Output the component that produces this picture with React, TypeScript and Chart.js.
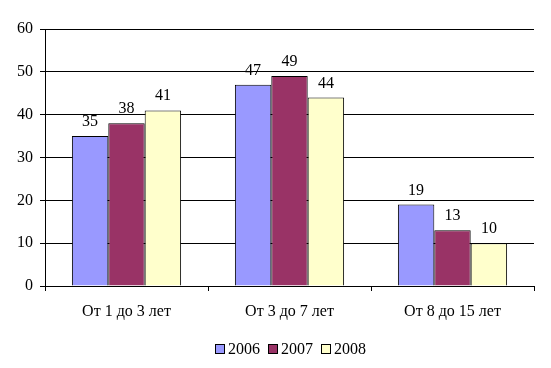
import React, { useEffect, useRef } from "react";
import { Chart, registerables } from "chart.js";

Chart.register(...registerables);

const categories = ["От 1 до 3 лет", "От 3 до 7 лет", "От 8 до 15 лет"];
const seriesNames = ["2006", "2007", "2008"];
const values2006 = [35, 47, 19];
const values2007 = [38, 49, 13];
const values2008 = [41, 44, 10];
const colors = ["#9999FF", "#993366", "#FFFFCC"];

const FONT = "'Liberation Serif', 'Times New Roman', serif";
const FS = 16;

const dataLabels = {
  id: "dataLabels",
  afterDatasetsDraw(chart: any) {
    const ctx = chart.ctx;
    ctx.save();
    ctx.font = `${FS}px ${FONT}`;
    ctx.fillStyle = "#000";
    ctx.textAlign = "center";
    ctx.textBaseline = "alphabetic";
    chart.data.datasets.forEach((ds: any, i: number) => {
      const meta = chart.getDatasetMeta(i);
      meta.data.forEach((el: any, j: number) => {
        ctx.fillText(String(ds.data[j]), el.x, el.y - 10);
      });
    });
    ctx.restore();
  },
};

const customLegend = {
  id: "customLegend",
  afterDraw(chart: any) {
    const ctx = chart.ctx;
    ctx.save();
    ctx.font = `${FS}px ${FONT}`;
    const box = 9;
    const textGap = 4;
    const itemGap = 8;
    const items = chart.data.datasets.map((ds: any) => ({
      label: ds.label,
      color: ds.backgroundColor,
      w: ctx.measureText(ds.label).width,
    }));
    const total =
      items.reduce((s: number, it: any) => s + box + textGap + it.w, 0) +
      itemGap * (items.length - 1);
    const cx = 290.5;
    const cy = 349;
    let x = Math.round(cx - total / 2);
    ctx.textBaseline = "middle";
    ctx.textAlign = "left";
    items.forEach((it: any) => {
      ctx.fillStyle = it.color;
      ctx.fillRect(x + 0.5, cy - 4.5, box, box);
      ctx.strokeStyle = "#000";
      ctx.lineWidth = 1;
      ctx.strokeRect(x + 0.5, cy - 4.5, box, box);
      ctx.fillStyle = "#000";
      ctx.fillText(it.label, x + box + textGap, cy + 1);
      x += box + textGap + it.w + itemGap;
    });
    ctx.restore();
  },
};

export default function App() {
  const ref = useRef<HTMLCanvasElement>(null);
  useEffect(() => {
    if (!ref.current) return;
    const chart = new Chart(ref.current, {
      type: "bar",
      data: {
        labels: categories,
        datasets: [values2006, values2007, values2008].map((d, i) => ({
          label: seriesNames[i],
          data: d,
          backgroundColor: colors[i],
          borderColor: "#000",
          borderWidth: 1,
          barPercentage: 1,
          categoryPercentage: 0.67,
        })),
      },
      options: {
        responsive: false,
        animation: false,
        layout: { padding: { left: 0, right: 17, top: 29, bottom: 0 } },
        plugins: {
          tooltip: { enabled: false },
          legend: { display: false },
        },
        scales: {
          x: {
            afterFit(scale: any) {
              scale.height = 82;
            },
            grid: {
              drawOnChartArea: false,
              drawTicks: true,
              tickLength: 5,
              color: "#000",
            },
            border: { display: true, color: "#000" },
            ticks: {
              color: "#000",
              padding: 11,
              font: { family: FONT, size: FS },
            },
          },
          y: {
            min: 0,
            max: 60,
            afterFit(scale: any) {
              scale.width = 45;
            },
            ticks: {
              stepSize: 10,
              color: "#000",
              padding: 7,
              font: { family: FONT, size: FS },
            },
            grid: { color: "#000", tickLength: 5 },
            border: { display: true, color: "#000" },
          },
        },
      },
      plugins: [dataLabels, customLegend],
    });
    return () => chart.destroy();
  }, []);
  return (
    <div style={{ position: "fixed", left: 0, top: 0, width: 551, height: 368, background: "#fff" }}>
      <canvas ref={ref} width={551} height={368} />
    </div>
  );
}
